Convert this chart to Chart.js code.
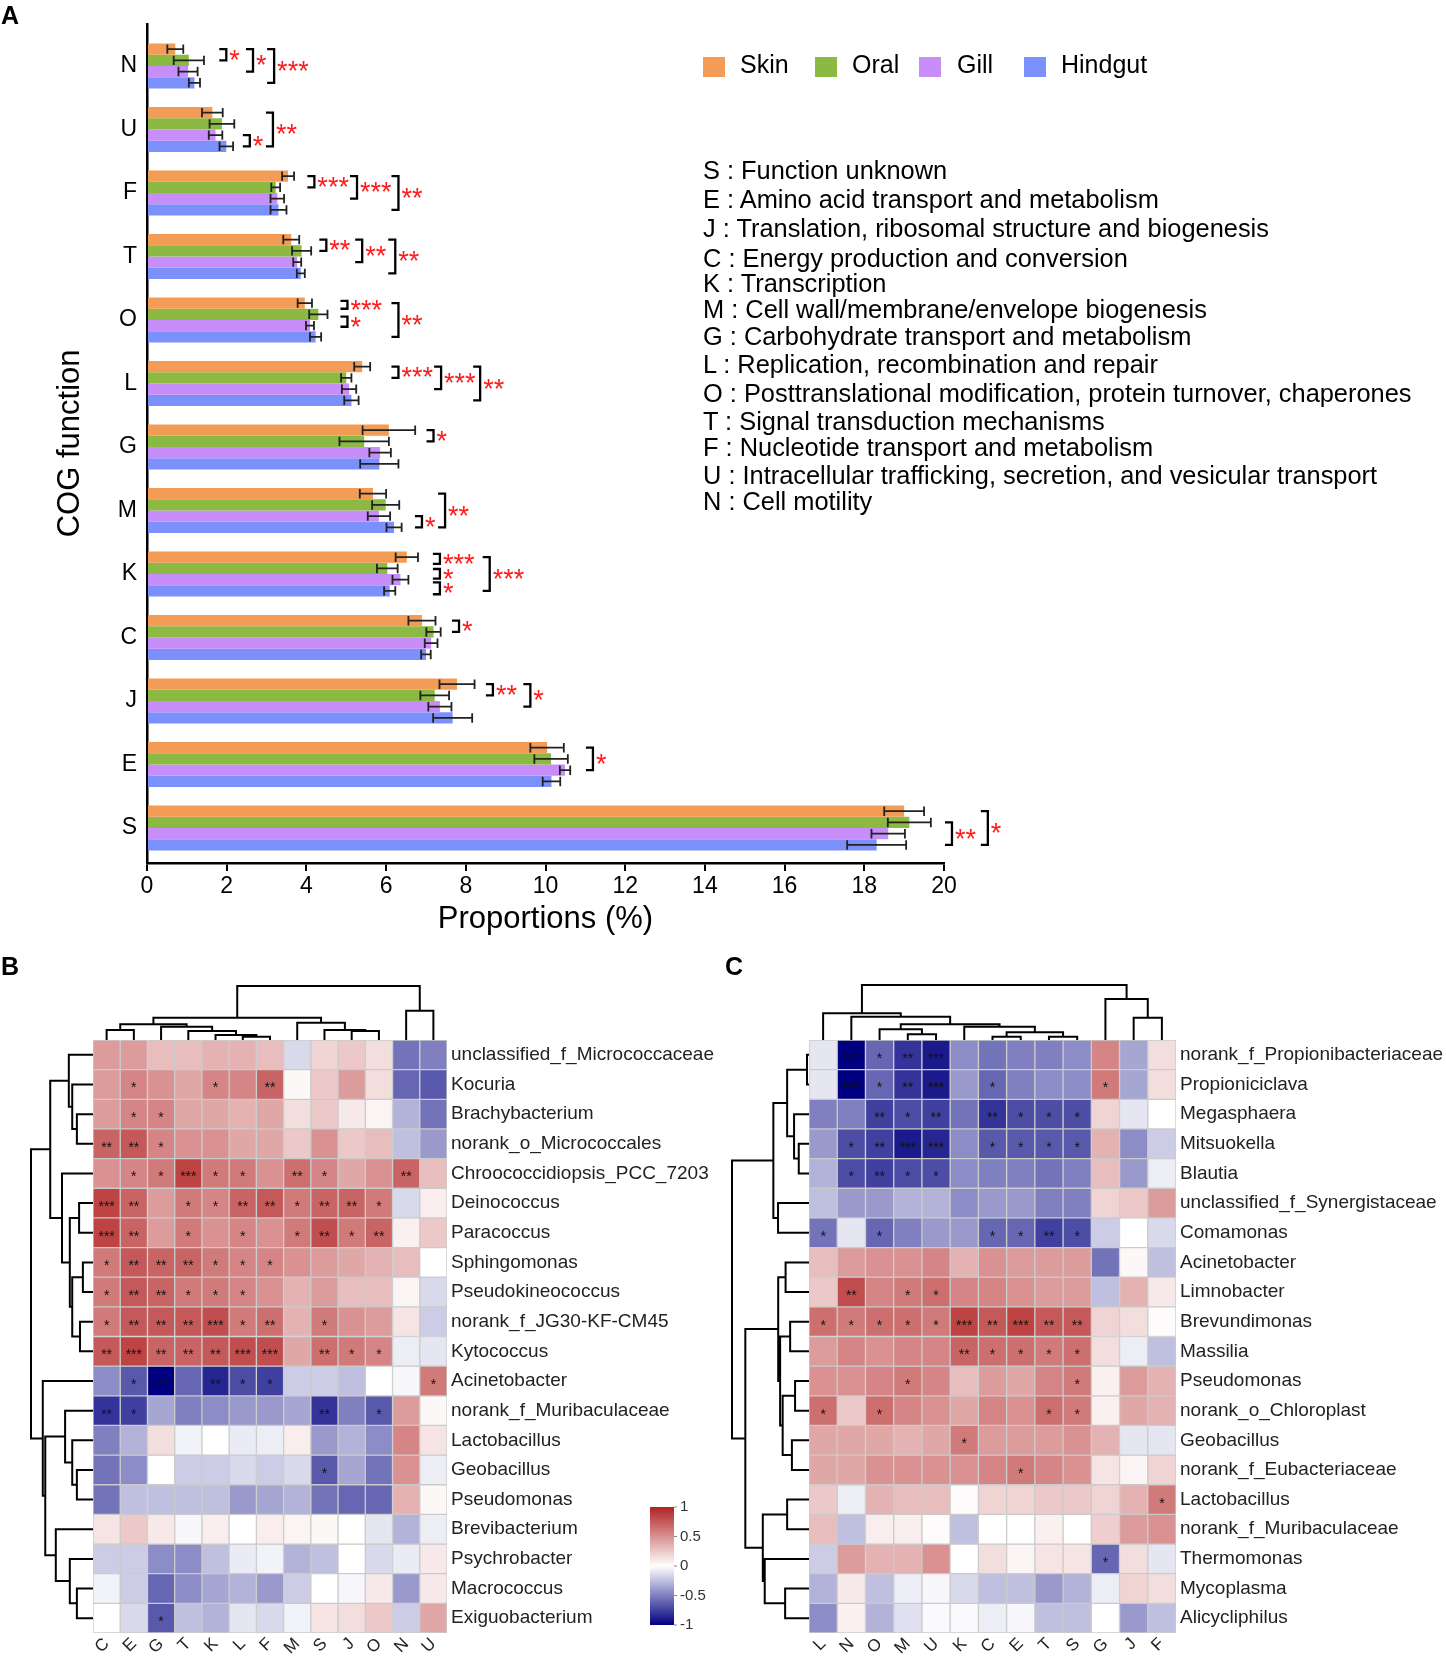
<!DOCTYPE html>
<html><head><meta charset="utf-8">
<script src="https://cdn.jsdelivr.net/npm/chart.js@4.4.1/dist/chart.umd.min.js"></script>
<style>
html,body{margin:0;padding:0;background:#fff;}
#page{position:relative;width:1446px;height:1658px;overflow:hidden;font-family:'Liberation Sans',Arial,sans-serif;color:#000;}
canvas{position:absolute;}
.t{position:absolute;white-space:nowrap;line-height:1;z-index:2;}
.sw{position:absolute;width:22px;height:20px;z-index:2;}
</style></head><body><div id="page">
<canvas id="cA" width="1010" height="945" style="left:0;top:0;width:1010px;height:945px"></canvas>
<canvas id="cB" width="725" height="718" style="left:0;top:940px;width:725px;height:718px"></canvas>
<canvas id="cC" width="726" height="718" style="left:720px;top:940px;width:726px;height:718px"></canvas>
<div class="t" style="left:1px;top:3px;font-size:25px;font-weight:bold">A</div>
<div class="t" style="left:1px;top:954px;font-size:25px;font-weight:bold">B</div>
<div class="t" style="left:725px;top:954px;font-size:25px;font-weight:bold">C</div>
<div id="legend"></div>
<div id="defs"></div>
</div>
<script>
// ---------- Panel A data ----------
const cogCats = ['N','U','F','T','O','L','G','M','K','C','J','E','S'];
const groups = ['Skin','Oral','Gill','Hindgut'];
const groupColors = ['#F39C55','#8BB942','#C78EF9','#7C90FB'];
const skin       = [0.71,1.64,3.54,3.62,3.96,5.40,6.07,5.67,6.52,6.90,7.78,10.04,19.00];
const skinErr    = [0.20,0.26,0.15,0.20,0.18,0.20,0.66,0.33,0.28,0.34,0.44,0.42,0.50];
const oral       = [1.05,1.88,3.23,3.88,4.30,5.00,5.45,5.99,6.03,7.19,7.22,10.14,19.13];
const oralErr    = [0.38,0.31,0.11,0.24,0.23,0.13,0.62,0.34,0.26,0.18,0.36,0.42,0.54];
const gill       = [1.03,1.72,3.27,3.77,4.09,5.07,5.85,5.82,6.36,7.13,7.35,10.49,18.60];
const gillErr    = [0.24,0.17,0.17,0.10,0.10,0.18,0.27,0.28,0.20,0.16,0.29,0.13,0.42];
const hindgut    = [1.19,1.99,3.30,3.86,4.23,5.13,5.83,6.20,6.09,7.00,7.67,10.15,18.31];
const hindgutErr = [0.14,0.17,0.20,0.10,0.14,0.18,0.48,0.19,0.14,0.12,0.49,0.22,0.74];
const xTicksA = [0,2,4,6,8,10,12,14,16,18,20];
// significance brackets: category, x value, from bar, to bar (0=Skin..3=Hindgut), label
const brackets = [
  ['N',1.99,0,1,'*'],['N',2.66,0,2,'*'],['N',3.19,0,3,'***'],
  ['U',2.58,2,3,'*'],['U',3.16,0,3,'**'],
  ['F',4.20,0,1,'***'],['F',5.27,0,2,'***'],['F',6.31,0,3,'**'],
  ['T',4.50,0,1,'**'],['T',5.40,0,2,'**'],['T',6.23,0,3,'**'],
  ['O',5.03,-0.2,0.5,'***'],['O',5.03,1.2,2.1,'*'],['O',6.31,0,3,'**'],
  ['L',6.31,0,1,'***'],['L',7.38,0,2,'***'],['L',8.36,0,3,'**'],
  ['G',7.19,0,1,'*'],
  ['M',6.90,2,3,'*'],['M',7.48,0,3,'**'],
  ['K',7.35,-0.3,0.6,'***'],['K',7.35,1.05,1.9,'*'],['K',7.35,2.25,3.3,'*'],['K',8.60,0,3,'***'],
  ['C',7.83,0,1,'*'],
  ['J',8.68,0,1,'**'],['J',9.62,0,2,'*'],
  ['E',11.19,0,2,'*'],
  ['S',20.2,1,3,'**'],['S',21.1,0,3,'*']
];
const cogDefs = [
  ['S','Function unknown'],['E','Amino acid transport and metabolism'],
  ['J','Translation, ribosomal structure and biogenesis'],['C','Energy production and conversion'],
  ['K','Transcription'],['M','Cell wall/membrane/envelope biogenesis'],
  ['G','Carbohydrate transport and metabolism'],['L','Replication, recombination and repair'],
  ['O','Posttranslational modification, protein turnover, chaperones'],['T','Signal transduction mechanisms'],
  ['F','Nucleotide transport and metabolism'],['U','Intracellular trafficking, secretion, and vesicular transport'],
  ['N','Cell motility']
];

// ---------- Panel B data ----------
const bCols = ['C','E','G','T','K','L','F','M','S','J','O','N','U'];
const bRows = ['unclassified_f_Micrococcaceae','Kocuria','Brachybacterium','norank_o_Micrococcales','Chroococcidiopsis_PCC_7203','Deinococcus','Paracoccus','Sphingomonas','Pseudokineococcus','norank_f_JG30-KF-CM45','Kytococcus','Acinetobacter','norank_f_Muribaculaceae','Lactobacillus','Geobacillus','Pseudomonas','Brevibacterium','Psychrobacter','Macrococcus','Exiguobacterium'];
const bValues = [
  [0.45,0.45,0.3,0.3,0.35,0.35,0.3,-0.15,0.2,0.25,0.15,-0.55,-0.5],
  [0.45,0.55,0.5,0.4,0.55,0.55,0.7,0.03,0.25,0.45,0.15,-0.6,-0.65],
  [0.45,0.55,0.55,0.4,0.4,0.35,0.4,0.15,0.25,0.1,0.05,-0.3,-0.55],
  [0.7,0.75,0.55,0.5,0.5,0.4,0.4,0.25,0.5,0.25,0.3,-0.25,-0.4],
  [0.5,0.55,0.6,0.85,0.6,0.6,0.5,0.65,0.55,0.4,0.5,0.7,0.3],
  [0.85,0.7,0.45,0.6,0.55,0.7,0.75,0.6,0.7,0.7,0.6,-0.15,0.08],
  [0.85,0.7,0.45,0.6,0.5,0.55,0.5,0.6,0.8,0.6,0.7,0.07,0.25],
  [0.6,0.75,0.7,0.7,0.6,0.55,0.55,0.5,0.45,0.4,0.35,0.3,0.0],
  [0.6,0.75,0.7,0.6,0.6,0.55,0.5,0.35,0.45,0.3,0.3,0.05,-0.15],
  [0.6,0.75,0.75,0.75,0.8,0.6,0.65,0.35,0.6,0.5,0.45,0.12,-0.2],
  [0.75,0.85,0.7,0.7,0.75,0.8,0.8,0.4,0.65,0.6,0.55,-0.07,-0.1],
  [-0.45,-0.65,-1.0,-0.6,-0.85,-0.7,-0.75,-0.2,-0.2,-0.25,0.0,-0.03,0.6],
  [-0.8,-0.75,-0.35,-0.5,-0.45,-0.4,-0.4,-0.35,-0.8,-0.5,-0.65,0.45,0.03],
  [-0.5,-0.3,0.15,-0.05,0.0,-0.08,-0.07,0.08,-0.4,-0.3,-0.45,0.55,0.12],
  [-0.55,-0.45,0.0,-0.2,-0.2,-0.15,-0.2,-0.15,-0.65,-0.35,-0.55,0.5,-0.07],
  [-0.55,-0.25,-0.25,-0.25,-0.25,-0.4,-0.35,-0.3,-0.55,-0.6,-0.6,0.35,0.03],
  [0.12,0.25,0.1,-0.03,0.08,0.0,0.08,0.05,0.03,0.0,-0.1,-0.3,-0.07],
  [-0.2,-0.2,-0.45,-0.45,-0.25,-0.08,-0.05,-0.3,-0.25,0.0,-0.15,-0.08,0.1],
  [-0.05,-0.2,-0.6,-0.45,-0.35,-0.3,-0.4,-0.2,0.0,-0.03,0.1,-0.4,0.1],
  [0.0,-0.15,-0.65,-0.25,-0.3,-0.1,-0.15,-0.05,0.12,0.15,0.25,-0.2,0.4]
];
const bStars = [
  [0,0,0,0,0,0,0,0,0,0,0,0,0],[0,1,0,0,1,0,2,0,0,0,0,0,0],[0,1,1,0,0,0,0,0,0,0,0,0,0],
  [2,2,1,0,0,0,0,0,0,0,0,0,0],[0,1,1,3,1,1,0,2,1,0,0,2,0],[3,2,0,1,1,2,2,1,2,2,1,0,0],
  [3,2,0,1,0,1,0,1,2,1,2,0,0],[1,2,2,2,1,1,1,0,0,0,0,0,0],[1,2,2,1,1,1,0,0,0,0,0,0,0],
  [1,2,2,2,3,1,2,0,1,0,0,0,0],[2,3,2,2,2,3,3,0,2,1,1,0,0],[0,1,3,0,2,1,1,0,0,0,0,0,1],
  [2,1,0,0,0,0,0,0,2,0,1,0,0],[0,0,0,0,0,0,0,0,0,0,0,0,0],[0,0,0,0,0,0,0,0,1,0,0,0,0],
  [0,0,0,0,0,0,0,0,0,0,0,0,0],[0,0,0,0,0,0,0,0,0,0,0,0,0],[0,0,0,0,0,0,0,0,0,0,0,0,0],
  [0,0,0,0,0,0,0,0,0,0,0,0,0],[0,0,1,0,0,0,0,0,0,0,0,0,0]
];
// dendrograms: [childA, childB, relative height]; leaves 0..n-1, merged nodes n, n+1, ...
const bColTree = [[0,1,0.185],[5,6,0.062],[4,14,0.093],[3,15,0.167],[2,16,0.247],[13,17,0.29],
  [9,10,0.167],[8,19,0.185],[7,20,0.32],[18,21,0.413],[11,12,0.543],[22,23,1]];
const bRowTree = [[2,3,0.26],[1,20,0.335],[0,21,0.39],[5,6,0.224],[7,8,0.163],[9,10,0.21],
  [24,25,0.335],[23,26,0.374],[4,27,0.5],[22,28,0.69],[14,15,0.26],[13,30,0.335],[12,31,0.45],
  [18,19,0.26],[17,33,0.374],[16,34,0.6],[32,35,0.77],[11,36,0.81],[29,37,1]];

// ---------- Panel C data ----------
const cCols = ['L','N','O','M','U','K','C','E','T','S','G','J','F'];
const cRows = ['norank_f_Propionibacteriaceae','Propioniciclava','Megasphaera','Mitsuokella','Blautia','unclassified_f_Synergistaceae','Comamonas','Acinetobacter','Limnobacter','Brevundimonas','Massilia','Pseudomonas','norank_o_Chloroplast','Geobacillus','norank_f_Eubacteriaceae','Lactobacillus','norank_f_Muribaculaceae','Thermomonas','Mycoplasma','Alicycliphilus'];
const cValues = [
  [-0.1,-1.0,-0.6,-0.8,-0.9,-0.45,-0.55,-0.5,-0.5,-0.45,0.55,-0.35,0.15],
  [-0.1,-1.0,-0.6,-0.8,-0.9,-0.4,-0.6,-0.5,-0.45,-0.45,0.6,-0.35,0.15],
  [-0.5,-0.5,-0.75,-0.7,-0.75,-0.55,-0.8,-0.7,-0.7,-0.7,0.2,-0.1,0.0],
  [-0.4,-0.7,-0.75,-0.9,-0.85,-0.45,-0.65,-0.65,-0.65,-0.65,0.35,-0.45,-0.2],
  [-0.3,-0.7,-0.75,-0.7,-0.7,-0.45,-0.5,-0.5,-0.55,-0.5,0.3,-0.4,-0.07],
  [-0.25,-0.4,-0.4,-0.3,-0.3,-0.45,-0.4,-0.4,-0.5,-0.5,0.2,0.25,0.45],
  [-0.55,-0.1,-0.6,-0.5,-0.4,-0.4,-0.6,-0.6,-0.75,-0.7,-0.2,0.0,-0.15],
  [0.3,0.45,0.5,0.5,0.55,0.35,0.5,0.45,0.45,0.45,-0.55,0.03,-0.25],
  [0.25,0.8,0.55,0.6,0.65,0.55,0.55,0.5,0.45,0.45,-0.25,0.35,0.1],
  [0.65,0.6,0.65,0.65,0.6,0.85,0.75,0.85,0.75,0.75,0.2,0.15,0.02],
  [0.45,0.55,0.5,0.55,0.55,0.7,0.65,0.65,0.6,0.65,0.15,-0.07,-0.25],
  [0.5,0.5,0.55,0.6,0.55,0.3,0.45,0.4,0.55,0.6,0.07,0.45,0.35],
  [0.65,0.25,0.65,0.55,0.5,0.4,0.55,0.5,0.65,0.6,0.07,0.4,0.35],
  [0.4,0.4,0.4,0.35,0.4,0.6,0.45,0.45,0.45,0.5,0.35,-0.1,-0.1],
  [0.4,0.4,0.5,0.5,0.5,0.5,0.55,0.6,0.55,0.5,0.12,0.05,0.2],
  [0.25,-0.07,0.35,0.3,0.3,0.02,0.2,0.2,0.25,0.25,0.2,0.35,0.6],
  [0.3,-0.25,0.08,0.08,0.02,-0.25,0.0,0.0,0.07,0.0,0.22,0.45,0.5],
  [-0.2,0.45,0.35,0.35,0.5,0.0,0.15,0.05,0.12,0.12,-0.6,0.15,-0.1],
  [-0.3,0.1,-0.25,-0.07,-0.03,-0.15,-0.25,-0.25,-0.4,-0.3,-0.07,0.2,0.15],
  [-0.45,0.07,-0.3,-0.12,-0.02,-0.02,-0.07,-0.03,-0.25,-0.25,0.0,-0.4,-0.25]
];
const cStars = [
  [0,3,1,2,3,0,0,0,0,0,0,0,0],[0,3,1,2,3,0,1,0,0,0,1,0,0],[0,0,2,1,2,0,2,1,1,1,0,0,0],
  [0,1,2,3,3,0,1,1,1,1,0,0,0],[0,1,2,1,1,0,0,0,0,0,0,0,0],[0,0,0,0,0,0,0,0,0,0,0,0,0],
  [1,0,1,0,0,0,1,1,2,1,0,0,0],[0,0,0,0,0,0,0,0,0,0,0,0,0],[0,2,0,1,1,0,0,0,0,0,0,0,0],
  [1,1,1,1,1,3,2,3,2,2,0,0,0],[0,0,0,0,0,2,1,1,1,1,0,0,0],[0,0,0,1,0,0,0,0,0,1,0,0,0],
  [1,0,1,0,0,0,0,0,1,1,0,0,0],[0,0,0,0,0,1,0,0,0,0,0,0,0],[0,0,0,0,0,0,0,1,0,0,0,0,0],
  [0,0,0,0,0,0,0,0,0,0,0,0,1],[0,0,0,0,0,0,0,0,0,0,0,0,0],[0,0,0,0,0,0,0,0,0,0,1,0,0],
  [0,0,0,0,0,0,0,0,0,0,0,0,0],[0,0,0,0,0,0,0,0,0,0,0,0,0]
];
const cColTree = [[3,4,0.103],[2,13,0.194],[6,7,0.06],[8,9,0.06],[15,16,0.14],[5,17,0.242],
  [14,18,0.285],[1,19,0.424],[0,20,0.485],[11,12,0.405],[10,22,0.745],[21,23,1]];
const cRowTree = [[0,1,0.026],[3,4,0.133],[2,21,0.194],[20,22,0.284],[5,6,0.402],[23,24,0.463],
  [7,8,0.304],[9,10,0.245],[11,12,0.181],[13,14,0.222],[28,29,0.342],[27,30,0.375],[26,31,0.4],
  [15,16,0.284],[18,19,0.31],[17,34,0.575],[33,35,0.6],[32,36,0.827],[25,37,1]];
const colorbarTicks = [1,0.5,0,-0.5,-1];

// ---------- common ----------
const FONT = "'Liberation Sans', Arial, sans-serif";
Chart.defaults.font.family = FONT;
Chart.defaults.color = '#000';

// HTML legend + definitions
(function(){
  const lg = document.getElementById('legend');
  const swX = [703,815,919,1024], txX = [740,852,957,1061];
  groups.forEach((g,i)=>{
    const s = document.createElement('div'); s.className='sw';
    s.style.left = swX[i]+'px'; s.style.top='57px'; s.style.background = groupColors[i]; lg.appendChild(s);
    const t = document.createElement('div'); t.className='t';
    t.style.left = txX[i]+'px'; t.style.top='52px'; t.style.fontSize='25px'; t.textContent = g; lg.appendChild(t);
  });
  const df = document.getElementById('defs');
  const ys = [170,199,228,258,283,309,336,364,393,421,447,475,501];
  cogDefs.forEach((d,i)=>{
    const t = document.createElement('div'); t.className='t';
    t.style.left='703px'; t.style.top=(ys[i]-12.5)+'px'; t.style.fontSize='25.4px';
    t.textContent = d[0] + ' : ' + d[1]; df.appendChild(t);
  });
})();

// ---------- Panel A ----------
const seriesVals = [skin, oral, gill, hindgut];
const seriesErr = [skinErr, oralErr, gillErr, hindgutErr];
const errPlugin = { id:'errbars', afterDatasetsDraw(chart){
  const ctx = chart.ctx, xs = chart.scales.x;
  ctx.save(); ctx.strokeStyle = '#222'; ctx.lineWidth = 1.8;
  chart.data.datasets.forEach((ds,d)=>{
    chart.getDatasetMeta(d).data.forEach((bar,i)=>{
      const v = seriesVals[d][i], e = seriesErr[d][i];
      const x1 = xs.getPixelForValue(v-e), x2 = xs.getPixelForValue(v+e);
      const y = bar.y, hh = bar.height*0.42;
      ctx.beginPath();
      ctx.moveTo(x1,y); ctx.lineTo(x2,y);
      ctx.moveTo(x1,y-hh); ctx.lineTo(x1,y+hh);
      ctx.moveTo(x2,y-hh); ctx.lineTo(x2,y+hh);
      ctx.stroke();
    });
  });
  ctx.restore();
}};
const bracketPlugin = { id:'brackets', afterDatasetsDraw(chart){
  const ctx = chart.ctx, xs = chart.scales.x;
  const m0 = chart.getDatasetMeta(0).data, m1 = chart.getDatasetMeta(1).data;
  ctx.save();
  brackets.forEach(([cat,xv,from,to,label])=>{
    const i = cogCats.indexOf(cat);
    const step = m1[i].y - m0[i].y;
    const ya = m0[i].y + from*step, yb = m0[i].y + to*step, x = xs.getPixelForValue(xv);
    ctx.strokeStyle='#000'; ctx.lineWidth=2.3;
    ctx.beginPath(); ctx.moveTo(x-7,ya); ctx.lineTo(x,ya); ctx.lineTo(x,yb); ctx.lineTo(x-7,yb); ctx.stroke();
    ctx.fillStyle='#ff1c1c'; ctx.font='27px '+FONT; ctx.textAlign='left'; ctx.textBaseline='alphabetic';
    ctx.fillText(label, x+3, (ya+yb)/2 + 14);
  });
  ctx.restore();
}};
new Chart(document.getElementById('cA'), {
  type:'bar',
  data:{ datasets: groups.map((g,d)=>({
    label:g, data: cogCats.map((c,i)=>({x: seriesVals[d][i], y: i})),
    backgroundColor: groupColors[d], borderWidth:0, categoryPercentage:0.708, barPercentage:1
  }))},
  options:{
    indexAxis:'y', responsive:false, animation:false, devicePixelRatio:1,
    layout:{padding:{left:0,right:66,top:23,bottom:0}},
    plugins:{legend:{display:false}, tooltip:{enabled:false}},
    scales:{
      x:{ type:'linear', min:0, max:20, offset:false,
        afterBuildTicks: s => { s.ticks = xTicksA.map(v=>({value:v})); },
        ticks:{ font:{size:23}, color:'#000', padding:2 },
        grid:{ display:true, drawOnChartArea:false, drawTicks:true, tickLength:8, color:'#000', lineWidth:2, offset:false },
        border:{ display:true, color:'#000', width:2.5 },
        title:{ display:true, text:'Proportions (%)', font:{size:31}, color:'#000', padding:{top:0,bottom:7} },
        afterFit: s => { s.height = 82; } },
      y:{ type:'linear', reverse:true, min:-0.664, max:12.55, offset:false,
        afterBuildTicks: s => { s.ticks = cogCats.map((c,i)=>({value:i})); },
        ticks:{ callback: v => cogCats[v] ?? '', font:{size:23}, color:'#000', padding:10, autoSkip:false },
        grid:{ display:false, drawTicks:false, offset:false },
        border:{ display:true, color:'#000', width:2.5 },
        title:{ display:true, text:'COG function', font:{size:31}, color:'#000', padding:{top:52,bottom:0} },
        afterFit: s => { s.width = 147; } }
    }
  },
  plugins:[errPlugin, bracketPlugin]
});

// ---------- Heatmaps ----------
function heatColor(v){
  const lo=[0,0,128], hi=[178,34,34];
  const t=Math.min(1,Math.abs(v)), e = v<0?lo:hi;
  return 'rgb('+[0,1,2].map(k=>Math.round(255+(e[k]-255)*t)).join(',')+')';
}
function drawTree(ctx, merges, n, leafPos, base, size, vertical){
  const pos=[], hgt=[];
  for(let i=0;i<n;i++){ pos.push(leafPos(i)); hgt.push(0); }
  ctx.beginPath();
  merges.forEach(([a,b,h])=>{
    const pa=pos[a], pb=pos[b], ha=base-hgt[a]*size, hb=base-hgt[b]*size, hn=base-h*size;
    if(vertical){ ctx.moveTo(pa,ha); ctx.lineTo(pa,hn); ctx.lineTo(pb,hn); ctx.lineTo(pb,hb); }
    else { ctx.moveTo(ha,pa); ctx.lineTo(hn,pa); ctx.lineTo(hn,pb); ctx.lineTo(hb,pb); }
    pos.push((pa+pb)/2); hgt.push(h);
  });
  ctx.stroke();
}
function drawColorbar(chart){
  const ctx=chart.ctx, x=650, y=567, w=24, h=118;
  const g=ctx.createLinearGradient(0,y,0,y+h);
  for(let i=0;i<=40;i++){ g.addColorStop(i/40, heatColor(1-i/20)); }
  ctx.save();
  ctx.fillStyle=g; ctx.fillRect(x,y,w,h);
  ctx.strokeStyle='#888'; ctx.lineWidth=1; ctx.fillStyle='#333';
  ctx.font='15px '+FONT; ctx.textAlign='left'; ctx.textBaseline='middle';
  colorbarTicks.forEach(v=>{
    const yy = y + (1-v)/2*h;
    ctx.beginPath(); ctx.moveTo(x+w,yy); ctx.lineTo(x+w+3,yy); ctx.stroke();
    ctx.fillText(String(v), x+w+6, yy);
  });
  ctx.restore();
}
function buildHeatmap(id, rows, cols, values, stars, rowTree, colTree, g, extra){
  const plugin = { id:'hm'+id, afterDraw(chart){
    const ctx=chart.ctx, xs=chart.scales.x, ys=chart.scales.y, ca=chart.chartArea;
    ctx.save();
    ctx.fillStyle='#111'; ctx.font='14px '+FONT; ctx.textAlign='center'; ctx.textBaseline='alphabetic';
    stars.forEach((row,r)=>row.forEach((s,c)=>{
      if(!s) return;
      ctx.fillText('*'.repeat(s), xs.getPixelForValue(c), ys.getPixelForValue(r+0.5)+8);
    }));
    ctx.strokeStyle='#000'; ctx.lineWidth=2;
    drawTree(ctx, colTree, cols.length, i=>xs.getPixelForValue(i), ca.top, g.colTree, true);
    drawTree(ctx, rowTree, rows.length, i=>ys.getPixelForValue(i+0.5), ca.left, g.rowTree, false);
    ctx.restore();
    if(extra) extra(chart);
  }};
  new Chart(document.getElementById(id), {
    type:'bar',
    data:{ labels: cols, datasets: rows.map((r,ri)=>({
      label:r, data: cols.map(()=>1), backgroundColor: values[ri].map(heatColor),
      borderColor:'#cbcbcb', borderWidth:1, borderSkipped:false,
      categoryPercentage:1, barPercentage:1, stack:'s'
    }))},
    options:{
      responsive:false, animation:false, devicePixelRatio:1,
      layout:{padding:{left:g.left, top:100, right:0, bottom:0}},
      plugins:{legend:{display:false}, tooltip:{enabled:false}},
      scales:{
        x:{ stacked:true, ticks:{ minRotation:45, maxRotation:45, font:{size:17}, color:'#222', padding:1, autoSkip:false },
          grid:{display:false, drawTicks:false}, border:{display:false},
          afterFit: s => { s.height = 25; } },
        y:{ type:'linear', stacked:true, reverse:true, min:0, max:rows.length, position:'right', offset:false,
          afterBuildTicks: s => { s.ticks = rows.map((r,i)=>({value:i+0.5})); },
          ticks:{ callback: v => rows[Math.floor(v)], font:{size:19}, color:'#222', padding:4, autoSkip:false },
          grid:{display:false, drawTicks:false}, border:{display:false},
          afterFit: s => { s.width = g.right; } }
      }
    },
    plugins:[plugin]
  });
}
buildHeatmap('cB', bRows, bCols, bValues, bStars, bRowTree, bColTree, {left:93, right:278, colTree:54, rowTree:62}, drawColorbar);
buildHeatmap('cC', cRows, cCols, cValues, cStars, cRowTree, cColTree, {left:89, right:270, colTree:55, rowTree:77}, null);
</script>
</body></html>
